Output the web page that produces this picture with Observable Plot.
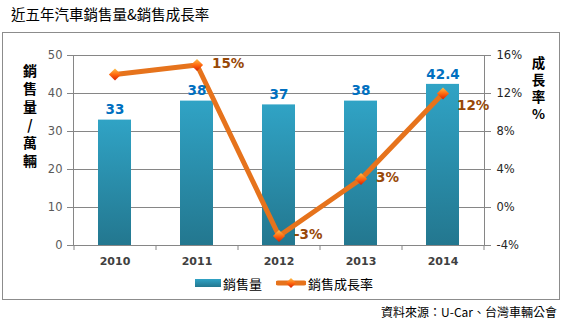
<!DOCTYPE html>
<html>
<head>
<meta charset="utf-8">
<script src="https://cdn.jsdelivr.net/npm/d3@7"></script>
<script src="https://cdn.jsdelivr.net/npm/@observablehq/plot@0.6"></script>
<style>
  html, body { margin: 0; padding: 0; background: #fff; }
  #wrap { position: relative; width: 562px; height: 322px; overflow: hidden; font-family: "Noto Sans CJK TC", "Noto Sans", sans-serif; }
  #wrap svg.chart { position: absolute; left: 0; top: 0; }
  .abs { position: absolute; white-space: nowrap; }
  #title { left: 11px; top: 3px; font-size: 14.5px; color: #000; }
  #box { left: 2px; top: 32px; width: 556px; height: 266px; border: 1px solid #8c8c8c; }
  .vtitle { font-weight: bold; color: #000; writing-mode: vertical-rl; text-orientation: upright; line-height: 1; }
  #ltitle { left: 23px; top: 64px; font-size: 14px; letter-spacing: 4px; }
  #rtitle { left: 531px; top: 56px; font-size: 13.5px; letter-spacing: 3.5px; }
  #legend { left: 195px; top: 273px; font-size: 13px; display: flex; align-items: center; height: 20px; }
  #caption { right: 5px; top: 303px; font-size: 12px; color: #000; }
</style>
</head>
<body>
<div id="wrap">
  <div id="box" class="abs"></div>
</div>
<script>
const years = ["2010", "2011", "2012", "2013", "2014"];
const sales = [33, 38, 37, 38, 42.4];
const growth = [14, 15, -3, 3, 12];
const salesLabels = ["33", "38", "37", "38", "42.4"];
const growthLabels = ["", "15%", "-3%", "3%", "12%"];
const salesTicks = [0, 10, 20, 30, 40, 50];
const growthTicks = [-4, 0, 4, 8, 12, 16];
const seriesNames = ["銷售量", "銷售成長率"];
const titleText = "近五年汽車銷售量&銷售成長率";
const leftTitle = "銷售量/萬輛";
const rightTitle = "成長率%";
const captionText = "資料來源：U-Car、台灣車輛公會";

// growth (%) mapped onto the sales y-range: -4..16 -> 0..50
const gMin = growthTicks[0], gMax = growthTicks[growthTicks.length - 1];
const sMax = salesTicks[salesTicks.length - 1];
const g2y = g => (g - gMin) * sMax / (gMax - gMin);
const y2g = v => Math.round(v * (gMax - gMin) / sMax + gMin);

const data = years.map((year, i) => ({
  year, sales: sales[i], growth: growth[i], gy: g2y(growth[i]),
  salesLabel: salesLabels[i], growthLabel: growthLabels[i], i
}));
const lastIdx = data.length - 1;

const grid = "#868686";
const tickFont = "DejaVu Sans, Verdana, sans-serif";

const chart = Plot.plot({
  width: 562,
  height: 322,
  marginLeft: 73,
  marginRight: 78,
  marginTop: 55,
  marginBottom: 77,
  style: { fontFamily: tickFont, background: "transparent", overflow: "visible" },
  x: { domain: years, paddingInner: 0.6, paddingOuter: 0.3, axis: null, label: null },
  y: { domain: [0, sMax], axis: null, label: null },
  marks: [
    Plot.gridY(salesTicks, { stroke: grid, strokeOpacity: 1 }),
    Plot.frame({ stroke: grid }),
    Plot.barY(data, { x: "year", y: "sales", fill: "url(#barGrad)" }),
    Plot.axisY(salesTicks, { anchor: "left", tickSize: 6, tickPadding: 5, stroke: grid, fill: "#5a5a5a", fontSize: 11.5, label: null }),
    Plot.axisY(growthTicks.map(g2y), { anchor: "right", tickSize: 6, tickPadding: 6, stroke: grid, fill: "#262626", fontSize: 11.5, label: null, tickFormat: v => y2g(v) + "%" }),
    Plot.axisX({ tickSize: 0, tickPadding: 12, fontWeight: "bold", fontSize: 11, fill: "#404040", label: null }),
    Plot.axisX({ tickSize: 5, stroke: grid, dx: 41, tickFormat: () => "", label: null }),
    Plot.axisX([years[0]], { tickSize: 5, stroke: grid, dx: -41, tickFormat: () => "", label: null }),
    Plot.lineY(data, { x: "year", y: "gy", stroke: "#e6731c", strokeWidth: 5 }),
    Plot.dot(data, { x: "year", y: "gy", symbol: "diamond2", r: 5.5, fill: "url(#dotGrad)", stroke: "none" }),
    Plot.text(data, { x: "year", y: "sales", text: "salesLabel", dy: -10, fill: "#0070c0", fontWeight: "bold", fontSize: 13.5 }),
    Plot.text(data.filter(d => d.i !== lastIdx), { x: "year", y: "gy", text: "growthLabel", dx: 15, dy: -1, textAnchor: "start", fill: "#984807", fontWeight: "bold", fontSize: 13.5 }),
    Plot.text(data.filter(d => d.i === lastIdx), { x: "year", y: "gy", text: "growthLabel", dx: 14, dy: 12, textAnchor: "start", fill: "#984807", fontWeight: "bold", fontSize: 13.5 })
  ]
});
chart.classList.add("chart");

const defs = d3.select(chart).insert("defs", ":first-child");
const bg = defs.append("linearGradient").attr("id", "barGrad").attr("x1", 0).attr("y1", 0).attr("x2", 0).attr("y2", 1);
bg.append("stop").attr("offset", "0%").attr("stop-color", "#30a3c5");
bg.append("stop").attr("offset", "100%").attr("stop-color", "#23778f");
const dg = defs.append("linearGradient").attr("id", "dotGrad").attr("x1", 0).attr("y1", 0).attr("x2", 0).attr("y2", 1);
dg.append("stop").attr("offset", "0%").attr("stop-color", "#ffc04a");
dg.append("stop").attr("offset", "50%").attr("stop-color", "#ff6a10");
dg.append("stop").attr("offset", "100%").attr("stop-color", "#d81e00");

const wrap = document.getElementById("wrap");
wrap.appendChild(chart);

function addDiv(id, cls, html) {
  const d = document.createElement("div");
  d.id = id; d.className = cls; d.innerHTML = html;
  wrap.appendChild(d);
  return d;
}
addDiv("title", "abs", titleText);
addDiv("ltitle", "abs vtitle", leftTitle);
addDiv("rtitle", "abs vtitle", rightTitle);
addDiv("caption", "abs", captionText);
addDiv("legend", "abs",
  `<svg width="26" height="10" style="margin-right:2px"><defs><linearGradient id="lgBar" x1="0" y1="0" x2="0" y2="1"><stop offset="0%" stop-color="#30a3c5"/><stop offset="100%" stop-color="#23778f"/></linearGradient><linearGradient id="lgDot" x1="0" y1="0" x2="0" y2="1"><stop offset="0%" stop-color="#ffc04a"/><stop offset="50%" stop-color="#ff6a10"/><stop offset="100%" stop-color="#d81e00"/></linearGradient></defs><rect x="0" y="1" width="26" height="8" fill="url(#lgBar)"/></svg>` +
  `<span>${seriesNames[0]}</span>` +
  `<svg width="30" height="14" style="margin-left:14px;margin-right:2px"><line x1="2" y1="7" x2="28" y2="7" stroke="#e6731c" stroke-width="5" stroke-linecap="round"/><path d="M15,2 L20,7 L15,12 L10,7 Z" fill="url(#lgDot)"/></svg>` +
  `<span>${seriesNames[1]}</span>`);
</script>
</body>
</html>
